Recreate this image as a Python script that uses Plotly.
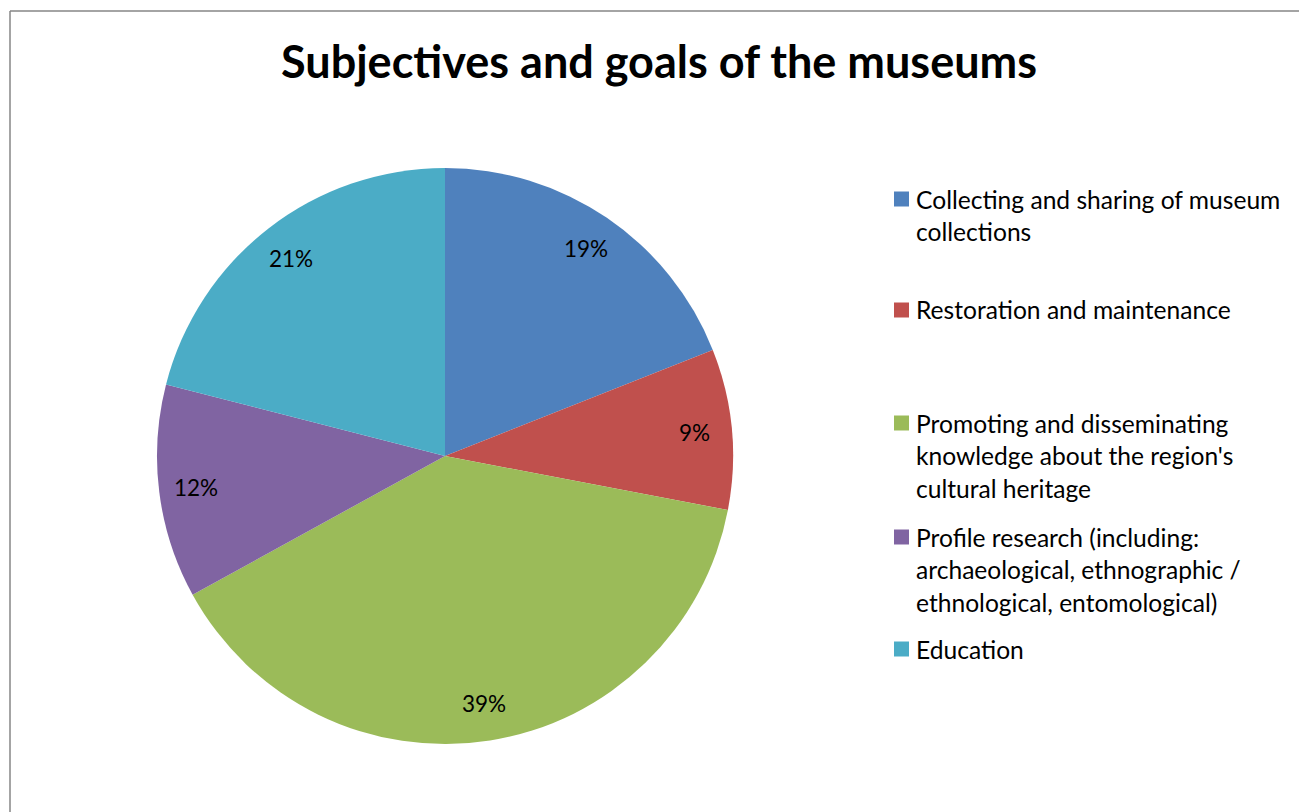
import numpy as np
import plotly.graph_objects as go

labels = [
    "Collecting and sharing of museum collections",
    "Restoration and maintenance",
    "Promoting and disseminating knowledge about the region's cultural heritage",
    "Profile research (including: archaeological, ethnographic / ethnological, entomological)",
    "Education",
]
legend_lines = [
    ["Collecting and sharing of museum", "collections"],
    ["Restoration and maintenance"],
    ["Promoting and disseminating", "knowledge about the region's", "cultural heritage"],
    ["Profile research (including:", "archaeological, ethnographic /", "ethnological, entomological)"],
    ["Education"],
]
values = [19, 9, 39, 12, 21]
colors = ["#4F81BD", "#C0504D", "#9BBB59", "#8064A2", "#4BACC6"]

W, H = 1299, 812
FONT = "Lato"

# pie geometry in pixels
cx, cy, r = 445, 456, 288

fig = go.Figure(
    go.Pie(
        labels=labels,
        values=values,
        marker=dict(colors=colors, line=dict(width=0)),
        sort=False,
        direction="clockwise",
        rotation=0,
        textinfo="none",
        showlegend=False,
        domain=dict(x=[(cx - r) / W, (cx + r) / W], y=[(H - cy - r) / H, (H - cy + r) / H]),
    )
)

annotations = []
# percentage labels placed along each slice's mid-angle
total = sum(values)
cum = 0
for v in values:
    mid = (cum + v / 2) / total * 2 * np.pi
    cum += v
    rr = 0.87 * r
    px = cx + rr * np.sin(mid)
    py = cy - rr * np.cos(mid)
    annotations.append(dict(
        x=px / W, y=1 - py / H, xref="paper", yref="paper",
        text=f"{round(v / total * 100)}%", showarrow=False,
        font=dict(family=FONT, size=22.5, color="#000000"),
        xanchor="center", yanchor="middle",
    ))

# legend column
shapes = []
item_top = [199, 310, 423, 537, 649]
line_h = 32.5
for lines, col, y0 in zip(legend_lines, colors, item_top):
    shapes.append(dict(
        type="rect", xref="paper", yref="paper",
        x0=894 / W, x1=909 / W, y0=1 - (y0 + 7.5) / H, y1=1 - (y0 - 7.5) / H,
        fillcolor=col, line=dict(width=0),
    ))
    for i, t in enumerate(lines):
        yy = y0 + i * line_h
        annotations.append(dict(
            x=914 / W, y=1 - yy / H, xref="paper", yref="paper",
            text=t, showarrow=False, xanchor="left", yanchor="middle",
            font=dict(family=FONT, size=24.6, color="#000000"),
        ))

# chart area frame (left and top edges)
shapes.append(dict(type="line", xref="paper", yref="paper",
                   x0=10 / W, x1=10 / W, y0=0, y1=1 - 11 / H,
                   line=dict(color="#868686", width=1.5)))
shapes.append(dict(type="line", xref="paper", yref="paper",
                   x0=10 / W, x1=1, y0=1 - 11 / H, y1=1 - 11 / H,
                   line=dict(color="#868686", width=1.5)))

fig.update_layout(
    width=W, height=H,
    margin=dict(l=0, r=0, t=0, b=0),
    paper_bgcolor="white",
    plot_bgcolor="white",
    title=dict(
        text="<b>Subjectives and goals of the museums</b>",
        x=659 / W, xanchor="center", y=1 - 62 / H, yanchor="middle",
        font=dict(family=FONT, size=45, color="#000000"),
    ),
    annotations=annotations,
    shapes=shapes,
)

fig.write_html("out.html")
